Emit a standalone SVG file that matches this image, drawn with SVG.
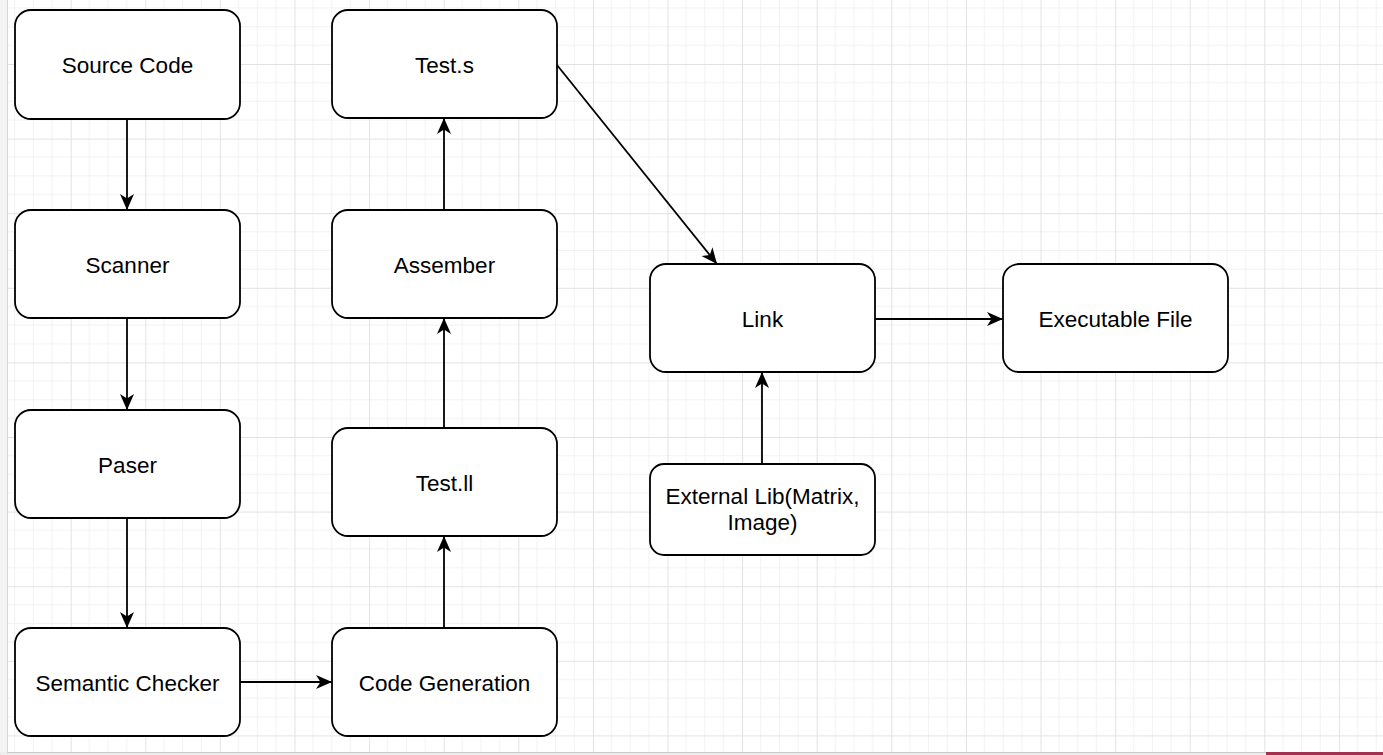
<svg xmlns="http://www.w3.org/2000/svg" width="1383" height="755" viewBox="0 0 1383 755">
  <style>
    .node rect { fill: #ffffff; stroke: #000000; stroke-width: 1.8; }
    .node text { font-family: "Liberation Sans", Arial, Helvetica, sans-serif; font-size: 22.5px; fill: #000000; text-anchor: middle; dominant-baseline: central; }
    .edge { stroke: #000000; stroke-width: 1.8; fill: none; marker-end: url(#arrow); }
    .minor { stroke: #f2f2f2; stroke-width: 1; }
    .major { stroke: #e2e2e2; stroke-width: 1; }
  </style>
  <defs>
    <pattern id="grid" patternUnits="userSpaceOnUse" x="70.7" y="64" width="74.6" height="74.6">
      <line class="minor" x1="18.65" y1="0" x2="18.65" y2="74.6"/>
      <line class="minor" x1="37.3" y1="0" x2="37.3" y2="74.6"/>
      <line class="minor" x1="55.95" y1="0" x2="55.95" y2="74.6"/>
      <line class="minor" x1="0" y1="18.65" x2="74.6" y2="18.65"/>
      <line class="minor" x1="0" y1="37.3" x2="74.6" y2="37.3"/>
      <line class="minor" x1="0" y1="55.95" x2="74.6" y2="55.95"/>
      <line class="major" x1="0.5" y1="0" x2="0.5" y2="74.6"/>
      <line class="major" x1="0" y1="0.5" x2="74.6" y2="0.5"/>
    </pattern>
    <marker id="arrow" markerUnits="userSpaceOnUse" markerWidth="17" markerHeight="15" refX="16" refY="7.5" orient="auto" viewBox="0 0 17 15">
      <path d="M0,0.5 L16,7.5 L0,14.5 L4.5,7.5 Z" fill="#000000"/>
    </marker>
  </defs>

  <rect x="0" y="0" width="1383" height="755" fill="#ffffff"/>
  <rect x="0" y="0" width="7" height="755" fill="#f4f4f4"/>
  <rect x="7" y="0" width="1376" height="752" fill="url(#grid)"/>
  <line x1="7.5" y1="0" x2="7.5" y2="752" stroke="#d6d6d6" stroke-width="1"/>
  <rect x="0" y="752" width="1383" height="3" fill="#eeeeee"/>
  <line x1="7" y1="752.5" x2="1266" y2="752.5" stroke="#c8c8c8" stroke-width="1"/>
  <rect x="1266" y="752" width="117" height="3" fill="#a3304f"/>

  <g id="connectors">
    <line class="edge" x1="127" y1="119" x2="127" y2="210"/>
    <line class="edge" x1="127" y1="318" x2="127" y2="410"/>
    <line class="edge" x1="127" y1="518" x2="127" y2="628"/>
    <line class="edge" x1="240" y1="682" x2="332" y2="682"/>
    <line class="edge" x1="444" y1="628" x2="444" y2="536"/>
    <line class="edge" x1="444" y1="428" x2="444" y2="318"/>
    <line class="edge" x1="444" y1="210" x2="444" y2="118"/>
    <line class="edge" x1="557" y1="65" x2="717" y2="264"/>
    <line class="edge" x1="875" y1="319" x2="1003" y2="319"/>
    <line class="edge" x1="762" y1="464" x2="762" y2="372"/>
  </g>

  <g id="source-code" class="node">
    <rect x="15" y="10" width="225" height="109" rx="16" ry="16"/>
    <text x="127.5" y="65">Source Code</text>
  </g>
  <g id="scanner" class="node">
    <rect x="15" y="210" width="225" height="108" rx="16" ry="16"/>
    <text x="127.5" y="265">Scanner</text>
  </g>
  <g id="paser" class="node">
    <rect x="15" y="410" width="225" height="108" rx="16" ry="16"/>
    <text x="127.5" y="465">Paser</text>
  </g>
  <g id="semantic-checker" class="node">
    <rect x="15" y="628" width="225" height="108" rx="16" ry="16"/>
    <text x="127.5" y="683">Semantic Checker</text>
  </g>
  <g id="code-generation" class="node">
    <rect x="332" y="628" width="225" height="108" rx="16" ry="16"/>
    <text x="444.5" y="683">Code Generation</text>
  </g>
  <g id="test-ll" class="node">
    <rect x="332" y="428" width="225" height="108" rx="16" ry="16"/>
    <text x="444.5" y="483">Test.ll</text>
  </g>
  <g id="assember" class="node">
    <rect x="332" y="210" width="225" height="108" rx="16" ry="16"/>
    <text x="444.5" y="265">Assember</text>
  </g>
  <g id="test-s" class="node">
    <rect x="332" y="10" width="225" height="108" rx="16" ry="16"/>
    <text x="444.5" y="65">Test.s</text>
  </g>
  <g id="link" class="node">
    <rect x="650" y="264" width="225" height="108" rx="16" ry="16"/>
    <text x="762.5" y="319">Link</text>
  </g>
  <g id="executable-file" class="node">
    <rect x="1003" y="264" width="225" height="108" rx="16" ry="16"/>
    <text x="1115.5" y="319">Executable File</text>
  </g>
  <g id="external-lib" class="node">
    <rect x="650" y="464" width="225" height="91" rx="14" ry="14"/>
    <text x="762.5" y="496">External Lib(Matrix,</text>
    <text x="762.5" y="522">Image)</text>
  </g>
</svg>
